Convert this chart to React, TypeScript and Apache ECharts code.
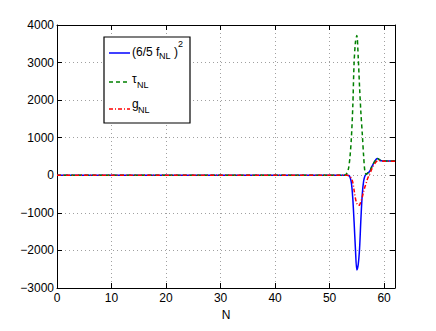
import React, { useEffect, useRef } from "react";
import * as echarts from "echarts";

const N = [0, 52, 52.5, 53, 53.25, 53.5, 53.75, 54, 54.25, 54.5, 54.75, 55, 55.25, 55.5, 55.75, 56, 56.25, 56.5, 56.75, 57, 57.25, 57.5, 57.75, 58, 58.25, 58.5, 58.75, 59, 59.25, 59.5, 60, 61, 62];
const fNL2 = [0, 0, 0, 0, 0, -5, -50, -200, -600, -1250, -1980, -2520, -2380, -1950, -1150, -500, -150, -10, 30, 60, 90, 140, 230, 300, 360, 420, 450, 430, 400, 385, 380, 380, 380];
const tauNL = [0, 0, 0, 20, 80, 200, 500, 1000, 1800, 3000, 3550, 3720, 3150, 2350, 1650, 1100, 500, 80, 30, 60, 90, 140, 230, 300, 360, 420, 450, 430, 400, 385, 380, 380, 380];
const gNL = [0, 0, 0, 0, 0, -20, -40, -80, -180, -400, -620, -750, -800, -790, -700, -580, -430, -300, -190, -80, 0, 80, 170, 240, 300, 350, 385, 400, 390, 380, 375, 375, 375];

const xTicks = { min: 0, max: 62, interval: 10 };
const yTicks = { min: -3000, max: 4000, interval: 1000 };

const FONT = '"Liberation Sans", Arial, sans-serif';

function pairs(ys: number[]) {
  return N.map((x, i) => [x, ys[i]]);
}

export default function App() {
  const ref = useRef<HTMLDivElement>(null);
  useEffect(() => {
    if (!ref.current) return;
    const chart = echarts.init(ref.current, undefined, { renderer: "svg" });
    const gridLine = { show: true, lineStyle: { color: "#a0a0a0", type: [1, 3] as any, width: 1 } };
    const axisLine = { show: true, onZero: false, lineStyle: { color: "#000", width: 1 } };
    const tick = { show: true, inside: true, length: 5, lineStyle: { color: "#000" } };
    const label = { color: "#000", fontFamily: FONT, fontSize: 12 };
    const t = (text: string, x: number, y: number, size: number) => ({
      type: "text",
      z: 101,
      style: { text, x, y, font: `${size}px ${FONT}`, fill: "#000", align: "left", verticalAlign: "middle", textAlign: "left", textVerticalAlign: "middle" },
    });
    const ln = (y: number, color: string, dash: any) => ({
      type: "line",
      z: 101,
      shape: { x1: 109, y1: y, x2: 130, y2: y },
      style: { stroke: color, lineWidth: 1.5, lineDash: dash },
    });
    chart.setOption({
      animation: false,
      grid: { left: 57, right: 41, top: 25, bottom: 43 },
      xAxis: [
        {
          type: "value", ...xTicks, position: "bottom",
          name: "N", nameLocation: "middle", nameGap: 15,
          nameTextStyle: { color: "#000", fontFamily: FONT, fontSize: 12 },
          axisLine, axisTick: tick, splitLine: gridLine,
          axisLabel: { ...label, margin: 4, showMaxLabel: false },
        },
        {
          type: "value", ...xTicks, position: "top",
          axisLine, axisTick: tick, splitLine: { show: false }, axisLabel: { show: false },
        },
      ],
      yAxis: [
        {
          type: "value", ...yTicks, position: "left",
          axisLine, axisTick: tick, splitLine: gridLine,
          axisLabel: { ...label, margin: 3, formatter: (v: number) => (v < 0 ? "\u2212" + Math.abs(v) : String(v)) },
        },
        {
          type: "value", ...yTicks, position: "right",
          axisLine, axisTick: tick, splitLine: { show: false }, axisLabel: { show: false },
        },
      ],
      series: [
        { type: "line", name: "fNL2", data: pairs(fNL2), showSymbol: false, smooth: 0.3, lineStyle: { color: "#0000ff", width: 1.5 } },
        { type: "line", name: "tauNL", data: pairs(tauNL), showSymbol: false, smooth: 0.3, lineStyle: { color: "#008000", width: 1.5, type: [4, 3] } },
        { type: "line", name: "gNL", data: pairs(gNL), showSymbol: false, smooth: 0.3, lineStyle: { color: "#ff0000", width: 1.5, type: [4, 2, 1, 2] } },
      ],
      graphic: [
        { type: "rect", z: 100, shape: { x: 104, y: 37, width: 86, height: 86 }, style: { fill: "#fff", stroke: "#000", lineWidth: 1.2 } },
        ln(53, "#0000ff", null),
        t("(6/5 f", 132, 52, 12),
        t("NL", 159, 56, 9),
        t(")", 174, 52, 12),
        t("2", 178, 44, 9),
        ln(82, "#008000", [4, 3]),
        t("τ", 132, 79, 12),
        t("NL", 137, 85, 9),
        ln(109, "#ff0000", [4, 2, 1, 2]),
        t("g", 132, 104, 12),
        t("NL", 138, 110, 9),
      ],
    });
    return () => chart.dispose();
  }, []);
  return <div ref={ref} style={{ width: 436, height: 331, position: "absolute", left: 0, top: 0 }} />;
}
